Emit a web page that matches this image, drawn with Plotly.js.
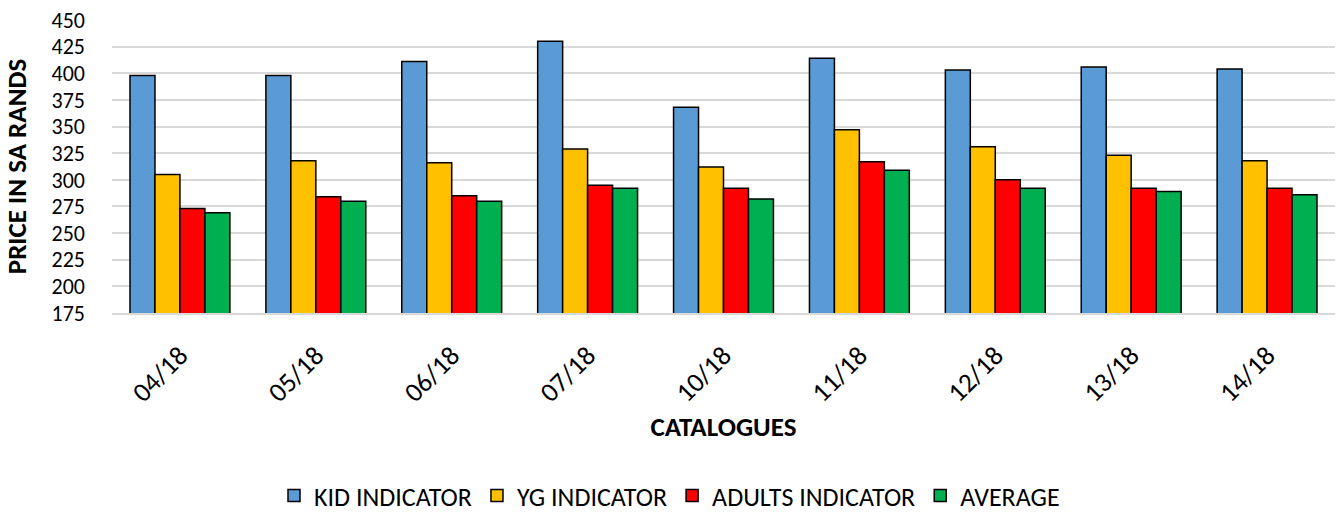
<!DOCTYPE html>
<html>
<head>
<meta charset="utf-8">
<script src="https://cdn.plot.ly/plotly-3.0.1.min.js"></script>
<style>html,body{margin:0;padding:0;background:#fff;}#chart{width:1339px;height:519px;}</style>
</head>
<body>
<div id="chart"></div>
<script>
const categories = ["04/18","05/18","06/18","07/18","10/18","11/18","12/18","13/18","14/18"];
const kidIndicator = [398, 398, 411, 430, 368, 414, 403, 406, 404];
const ygIndicator = [305, 318, 316, 329, 312, 347, 331, 323, 318];
const adultsIndicator = [273, 284, 285, 295, 292, 317, 300, 292, 292];
const average = [269, 280, 280, 292, 282, 309, 292, 289, 286];
const seriesNames = ["KID INDICATOR","YG INDICATOR","ADULTS INDICATOR","AVERAGE"];
const seriesColors = ["#5b9bd5","#ffc000","#ff0000","#00b050"];
const yTicks = [175,200,225,250,275,300,325,350,375,400,425,450];

const FONT = "Carlito, Calibri, 'Liberation Sans Narrow', 'Open Sans', sans-serif";
const FS = 27;
const data = [kidIndicator, ygIndicator, adultsIndicator, average].map((vals, i) => ({
  type: 'bar',
  x: categories,
  y: vals,
  name: seriesNames[i],
  marker: {color: seriesColors[i], line: {color: '#000', width: 1.5}},
  hoverinfo: 'x+y+name'
}));

const layout = {
  width: 1339, height: 519,
  margin: {l: 112, r: 4, t: 20, b: 206},
  paper_bgcolor: '#fff', plot_bgcolor: '#fff',
  font: {family: FONT, size: FS, color: '#000'},
  barmode: 'group',
  bargap: 0.265,
  bargroupgap: 0,
  xaxis: {
    type: 'category',
    tickangle: -45,
    tickfont: {family: FONT, size: FS, color: '#000'},
    showline: true, linecolor: '#d9d9d9', linewidth: 2,
    ticks: '', showgrid: false,
    ticklabelstandoff: 14,
    title: {text: '<b>CATALOGUES</b>', font: {family: FONT, size: FS, color: '#000'}, standoff: 10}
  },
  yaxis: {
    range: [175, 450],
    tickvals: yTicks,
    ticktext: yTicks.map(String),
    tickfont: {family: FONT, size: 22, color: '#000'},
    showgrid: true, gridcolor: '#d9d9d9', gridwidth: 2,
    zeroline: false, showline: false, ticks: '',
    ticklabelstandoff: 26,
    title: {text: '<b>PRICE IN SA RANDS</b>', font: {family: FONT, size: FS, color: '#000'}, standoff: 17}
  },
  legend: {
    orientation: 'h', xref: 'container', yref: 'container',
    x: 0.5, xanchor: 'center', y: 0, yanchor: 'bottom',
    font: {family: FONT, size: 26, color: '#000'},
    itemwidth: 30, traceorder: 'normal'
  },
  showlegend: true
};

Plotly.newPlot('chart', data, layout, {displayModeBar: false, staticPlot: true});
</script>
</body>
</html>
